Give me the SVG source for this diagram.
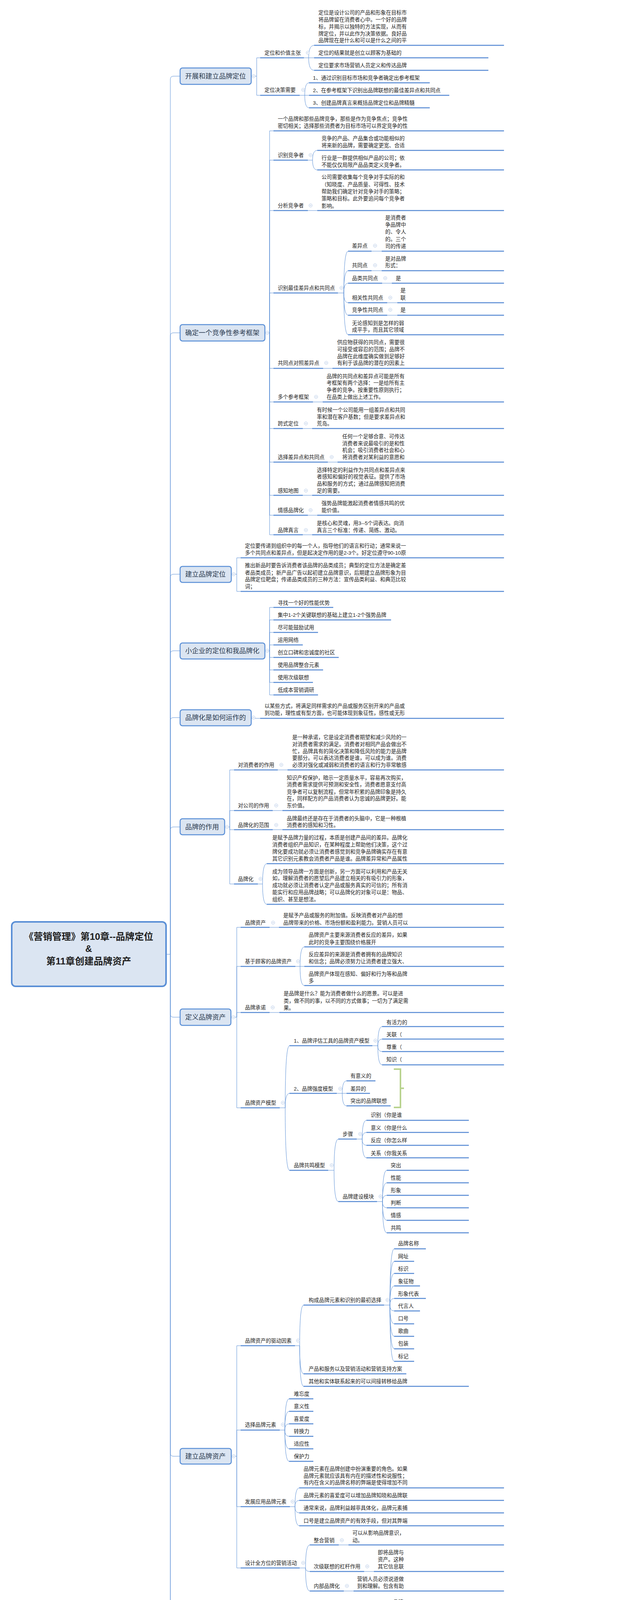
<svg xmlns="http://www.w3.org/2000/svg" width="1633" height="5072" viewBox="0 0 1633 5072">
<style>
text{font-family:"Liberation Sans","Noto Sans CJK SC",sans-serif}
.s{font-size:13.3px;fill:#1e1e1e}
.m{font-size:17.3px;fill:#2b3a4f}
.r{font-size:24px;font-weight:bold;fill:#1f1f1f}
.u{stroke:#5589d3;stroke-width:2.5}
.c{stroke:#5a8fd6;stroke-width:1;fill:none}
.b{fill:#dbe5f2;stroke:#5a8fd6;stroke-width:2.5}
.rb{fill:#dbe5f2;stroke:#5a8fd6;stroke-width:4}
</style>
<defs>
<symbol id="ic" viewBox="-5 -5 10 10" width="10" height="10" overflow="visible"><circle r="4.2" fill="#fff" stroke="#a8bfe2" stroke-width="0.9"/><line x1="-2.2" y1="0" x2="2.2" y2="0" stroke="#8fa9d4" stroke-width="0.9"/></symbol>
</defs>
<rect width="1633" height="5072" fill="#fff"/>
<g id="connectors">
<path class="c" d="M425,2443H436M436,2443V203Q436,195 444,195H461M436,2443V860Q436,852 444,852H461M436,2443V1478Q436,1470 444,1470H461M436,2443V1674Q436,1666 444,1666H461M436,2443V1845Q436,1837 444,1837H461M436,2443V2125Q436,2117 444,2117H461M436,2443V2596Q436,2604 444,2604H461M436,2443V3720Q436,3728 444,3728H461M436,2443V4252Q436,4260 444,4260H461M436,2443V4682Q436,4690 444,4690H461"/>
<path class="c" d="M643,195H657M657,195V148H666M657,195V244H666"/>
<path class="c" d="M778,148H790M790,148Q790,116 804,116M790,148H804M790,148Q790,180 804,180"/>
<path class="c" d="M767,244H780M780,244Q780,212 791,212M780,244H791M780,244Q780,276 791,276"/>
<path class="c" d="M678,852H690M690,852V335H700M690,852V410H700M690,852V539H700M690,852V750H700M690,852V943H700M690,852V1029H700M690,852V1097H700M690,852V1183H700M690,852V1268H700M690,852V1319H700M690,852V1369H700"/>
<path class="c" d="M788,410H800M800,410Q800,385 812,385M800,410Q800,435 812,435M788,539H812"/>
<path class="c" d="M865,750H880M880,750Q880,643 891,643M880,750Q880,693 891,693M880,750Q880,725 891,725M880,750Q880,775 891,775M880,750Q880,807 891,807M880,750Q880,857 891,857"/>
<path class="c" d="M951,643H977M951,693H977M978,725H1003M991,775H1017M991,807H1017"/>
<path class="c" d="M827,943H851M801,1029H826M775,1097H799M839,1183H864M775,1268H799M788,1319H812M775,1369H799"/>
<path class="c" d="M592,1470H606M606,1470V1428H616M606,1470V1514H616"/>
<path class="c" d="M678,1666H690M690,1666V1555H700M690,1666V1587H700M690,1666V1619H700M690,1666V1651H700M690,1666V1683H700M690,1666V1715H700M690,1666V1747H700M690,1666V1779H700"/>
<path class="c" d="M643,1839H666"/>
<path class="c" d="M575,2117H588M588,2117V1971H599M588,2117V2075H599M588,2117V2124H599M588,2117V2263H599"/>
<path class="c" d="M711,1971H736M698,2075H723M698,2124H723M660,2263H672M672,2263Q672,2211 683,2211M672,2263Q672,2315 683,2315"/>
<path class="c" d="M591,2604H606M606,2604V2374H616M606,2604V2474H616M606,2604V2592H616M606,2604V2836H616"/>
<path class="c" d="M690,2374H714M756,2474H768M768,2474Q768,2424 779,2424M768,2474H779M768,2474Q768,2523 779,2523M690,2592H715"/>
<path class="c" d="M716,2836H730M730,2836Q730,2677 741,2677M730,2836Q730,2799 741,2799M730,2836Q730,2996 741,2996"/>
<path class="c" d="M953,2677H967M967,2677Q967,2628 978,2628M967,2677Q967,2660 978,2660M967,2677Q967,2692 978,2692M967,2677Q967,2726 978,2726"/>
<path class="c" d="M862,2799H876M876,2799Q876,2767 887,2767M876,2799H887M876,2799Q876,2831 887,2831"/>
<path class="c" d="M840,2996H855M855,2996Q855,2916 866,2916M855,2996Q855,3076 866,3076"/>
<path class="c" d="M913,2916H927M927,2916Q927,2868 938,2868M927,2916Q927,2899 938,2899M927,2916Q927,2932 938,2932M927,2916Q927,2964 938,2964"/>
<path class="c" d="M965,3076H979M979,3076Q979,2996 990,2996M979,3076Q979,3028 990,3028M979,3076Q979,3060 990,3060M979,3076Q979,3092 990,3092M979,3076Q979,3124 990,3124M979,3076Q979,3156 990,3156"/>
<path class="c" d="M592,3728H606M606,3728V3445H616M606,3728V3661H616M606,3728V3857H616M606,3728V4014H616"/>
<path class="c" d="M755,3445H767M767,3445Q767,3341 777,3341M767,3445Q767,3517 777,3517M767,3445Q767,3549 777,3549"/>
<path class="c" d="M983,3341H998M998,3341Q998,3197 1009,3197M998,3341Q998,3229 1009,3229M998,3341Q998,3260 1009,3260M998,3341Q998,3292 1009,3292M998,3341Q998,3324 1009,3324M998,3341Q998,3356 1009,3356M998,3341Q998,3389 1009,3389M998,3341Q998,3421 1009,3421M998,3341Q998,3453 1009,3453M998,3341Q998,3485 1009,3485"/>
<path class="c" d="M716,3661H729M729,3661Q729,3581 740,3581M729,3661Q729,3613 740,3613M729,3661Q729,3645 740,3645M729,3661Q729,3677 740,3677M729,3661Q729,3709 740,3709M729,3661Q729,3741 740,3741"/>
<path class="c" d="M742,3857H755M755,3857Q755,3809 766,3809M755,3857Q755,3841 766,3841M755,3857Q755,3873 766,3873M755,3857Q755,3906 766,3906"/>
<path class="c" d="M767,4014H782M782,4014Q782,3955 793,3955M782,4014Q782,4023 793,4023M782,4014Q782,4073 793,4073M867,3955H892M932,4023H957M880,4073H905"/>
<path class="c" d="M592,4260H606M606,4260V4182H616M606,4260V4340H616"/>
<path class="c" d="M690,4182H703M703,4182Q703,4130 714,4130M703,4182Q703,4178 714,4178M703,4182Q703,4235 714,4235"/>
<path class="c" d="M970,4130H984M984,4130Q984,4113 995,4113M984,4130Q984,4146 995,4146M853,4235H867M867,4235Q867,4210 878,4210M867,4235Q867,4261 878,4261"/>
<path class="c" d="M690,4340H703M703,4340Q703,4292 714,4292M703,4340Q703,4324 714,4324M703,4340Q703,4356 714,4356M703,4340Q703,4388 714,4388"/>
<path class="c" d="M609,4690H623M623,4690V4462H633M623,4690V4589H633M623,4690V4685H633M623,4690V4717H633M623,4690V4749H633M623,4690V4781H633M623,4690V4813H633M623,4690V4921H633"/>
<path class="c" d="M733,4462H746M746,4462Q746,4429 757,4429M746,4462H757M746,4462Q746,4493 757,4493"/>
<path class="c" d="M707,4589H720M720,4589Q720,4525 731,4525M720,4589Q720,4557 731,4557M720,4589H731M720,4589Q720,4621 731,4621M720,4589Q720,4653 731,4653"/>
<path class="c" d="M693,4685H718M707,4717H731M707,4749H731M707,4781H731"/>
<path class="c" d="M733,4921H746M746,4921Q746,4845 757,4845M746,4921Q746,4877 757,4877M746,4921Q746,4909 757,4909M746,4921Q746,4998 757,4998"/>
<path class="c" d="M962,4998H975M975,4998Q975,4941 986,4941M975,4998Q975,4991 986,4991M975,4998Q975,5023 986,5023M975,4998Q975,5055 986,5055"/>
</g>

<g id="root"><rect class="rb" x="30" y="2360" width="395" height="165" rx="10"/>
<text class="r" text-anchor="middle"><tspan x="227" y="2406">《营销管理》第10章--品牌定位</tspan><tspan x="227" y="2437">&amp;</tspan><tspan x="227" y="2469">第11章创建品牌资产</tspan></text></g>

<g id="m1"><rect class="b" x="461" y="174" width="182" height="42" rx="6"/><text class="m" x="474" y="201">开展和建立品牌定位</text><use href="#ic" x="644" y="190"/></g>
<g id="m2"><rect class="b" x="461" y="831" width="217" height="42" rx="6"/><text class="m" x="474" y="858">确定一个竞争性参考框架</text><use href="#ic" x="679" y="847"/></g>
<g id="m3"><rect class="b" x="461" y="1450" width="131" height="41" rx="6"/><text class="m" x="474" y="1476">建立品牌定位</text><use href="#ic" x="593" y="1465"/></g>
<g id="m4"><rect class="b" x="461" y="1646" width="217" height="41" rx="6"/><text class="m" x="474" y="1672">小企业的定位和我品牌化</text><use href="#ic" x="679" y="1661"/></g>
<g id="m5"><rect class="b" x="461" y="1817" width="182" height="41" rx="6"/><text class="m" x="474" y="1843">品牌化是如何运作的</text><use href="#ic" x="644" y="1832"/></g>
<g id="m6"><rect class="b" x="461" y="2096" width="114" height="41" rx="6"/><text class="m" x="474" y="2123">品牌的作用</text><use href="#ic" x="576" y="2112"/></g>
<g id="m7"><rect class="b" x="461" y="2583" width="130" height="42" rx="6"/><text class="m" x="474" y="2610">定义品牌资产</text><use href="#ic" x="592" y="2599"/></g>
<g id="m8"><rect class="b" x="461" y="3708" width="131" height="40" rx="6"/><text class="m" x="474" y="3734">建立品牌资产</text><use href="#ic" x="593" y="3723"/></g>
<g id="m9"><rect class="b" x="461" y="4240" width="131" height="41" rx="6"/><text class="m" x="474" y="4266">管理品牌资产</text><use href="#ic" x="593" y="4255"/></g>
<g id="m10"><rect class="b" x="461" y="4670" width="148" height="41" rx="6"/><text class="m" x="474" y="4696">设计品牌化战略</text><use href="#ic" x="610" y="4685"/></g>

<g id="n1a"><text class="s" x="677" y="140">定位和价值主张</text><line class="u" x1="666" y1="148" x2="778" y2="148"/><use href="#ic" x="783" y="130"/></g>
<g id="n1a1"><text class="s"><tspan x="815" y="37">定位是设计公司的产品和形象在目标市</tspan><tspan x="815" y="55">将品牌留在消费者心中。一个好的品牌</tspan><tspan x="815" y="73">标，并揭示以独特的方法实现，从而有</tspan><tspan x="815" y="91">牌定位，并以此作为决策依据。良好品</tspan><tspan x="815" y="108">品牌现在是什么和可以是什么之间的平</tspan></text><line class="u" x1="804" y1="116" x2="1290" y2="116"/></g>
<g id="n1a2"><text class="s" x="815" y="140">定位的结果就是创立以顾客为基础的</text><line class="u" x1="804" y1="148" x2="1250" y2="148"/></g>
<g id="n1a3"><text class="s" x="815" y="172">定位要求市场营销人员定义和传达品牌</text><line class="u" x1="804" y1="180" x2="1250" y2="180"/></g>
<g id="n1b"><text class="s" x="677" y="235">定位决策需要</text><line class="u" x1="666" y1="244" x2="767" y2="244"/><use href="#ic" x="771" y="225"/></g>
<g id="n1b1"><text class="s" x="801" y="204">1、通过识别目标市场和竞争者确定出参考框架</text><line class="u" x1="791" y1="212" x2="1100" y2="212"/></g>
<g id="n1b2"><text class="s" x="801" y="236">2、在参考框架下识别出品牌联想的最佳差异点和共同点</text><line class="u" x1="791" y1="244" x2="1150" y2="244"/></g>
<g id="n1b3"><text class="s" x="801" y="268">3、创建品牌真言来概括品牌定位和品牌精髓</text><line class="u" x1="791" y1="276" x2="1100" y2="276"/></g>

<g id="n2a"><text class="s"><tspan x="711" y="309">一个品牌和那些品牌竞争，那些是作为竞争焦点；竞争性</tspan><tspan x="711" y="327">密切相关；选择那些消费者为目标市场可以界定竞争的性</tspan></text><line class="u" x1="700" y1="335" x2="1290" y2="335"/></g>
<g id="n2b"><text class="s" x="711" y="402">识别竞争者</text><line class="u" x1="700" y1="410" x2="788" y2="410"/><use href="#ic" x="790" y="392"/></g>
<g id="n2b1"><text class="s"><tspan x="823" y="359">竞争的产品、产品集合或功能相似的</tspan><tspan x="823" y="377">将来新的品牌，需要确定更宽、合适</tspan></text><line class="u" x1="812" y1="385" x2="1290" y2="385"/></g>
<g id="n2b2"><text class="s"><tspan x="823" y="409">行业是一群提供相似产品的公司；依</tspan><tspan x="823" y="427">不能仅仅局限产品品类定义竞争者。</tspan></text><line class="u" x1="812" y1="435" x2="1290" y2="435"/></g>
<g id="n2c"><text class="s" x="711" y="531">分析竞争者</text><line class="u" x1="700" y1="539" x2="788" y2="539"/><use href="#ic" x="790" y="521"/></g>
<g id="n2c1"><text class="s"><tspan x="823" y="458">公司需要收集每个竞争对手实际的和</tspan><tspan x="823" y="477">（知晓度、产品质量、可得性、技术</tspan><tspan x="823" y="495">帮助我们确定针对竞争对手的策略；</tspan><tspan x="823" y="513">策略和目标。此外要追问每个竞争者</tspan><tspan x="823" y="532">影响。</tspan></text><line class="u" x1="812" y1="539" x2="1290" y2="539"/></g>
<g id="n2d"><text class="s" x="711" y="742">识别最佳差异点和共同点</text><line class="u" x1="700" y1="750" x2="865" y2="750"/><use href="#ic" x="869" y="732"/></g>
<g id="n2d1"><text class="s" x="901" y="634">差异点</text><line class="u" x1="891" y1="643" x2="951" y2="643"/><use href="#ic" x="955" y="624"/></g>
<g id="n2d1a"><text class="s"><tspan x="986" y="562">是消费者</tspan><tspan x="986" y="580">争品牌中</tspan><tspan x="986" y="598">的、令人</tspan><tspan x="986" y="617">的。三个</tspan><tspan x="986" y="635">司的传递</tspan></text><line class="u" x1="977" y1="643" x2="1290" y2="643"/></g>
<g id="n2d2"><text class="s" x="901" y="684">共同点</text><line class="u" x1="891" y1="693" x2="951" y2="693"/><use href="#ic" x="955" y="674"/></g>
<g id="n2d2a"><text class="s"><tspan x="986" y="667">是对品牌</tspan><tspan x="986" y="684">形式：</tspan></text><line class="u" x1="977" y1="693" x2="1290" y2="693"/></g>
<g id="n2d3"><text class="s" x="901" y="717">品类共同点</text><line class="u" x1="891" y1="725" x2="978" y2="725"/><use href="#ic" x="981" y="707"/></g>
<g id="n2d3a"><text class="s" x="1013" y="717">是</text><line class="u" x1="1003" y1="725" x2="1290" y2="725"/></g>
<g id="n2d4"><text class="s" x="901" y="767">相关性共同点</text><line class="u" x1="891" y1="775" x2="991" y2="775"/><use href="#ic" x="994" y="757"/></g>
<g id="n2d4a"><text class="s"><tspan x="1025" y="748">是</tspan><tspan x="1025" y="767">联</tspan></text><line class="u" x1="1017" y1="775" x2="1290" y2="775"/></g>
<g id="n2d5"><text class="s" x="901" y="798">竞争性共同点</text><line class="u" x1="891" y1="807" x2="991" y2="807"/><use href="#ic" x="994" y="788"/></g>
<g id="n2d5a"><text class="s" x="1025" y="798">是</text><line class="u" x1="1017" y1="807" x2="1290" y2="807"/></g>
<g id="n2d6"><text class="s"><tspan x="901" y="832">无论感知到是怎样的弱</tspan><tspan x="901" y="849">成平手，而且其它领域</tspan></text><line class="u" x1="891" y1="857" x2="1290" y2="857"/></g>
<g id="n2e"><text class="s" x="711" y="934">共同点对照差异点</text><line class="u" x1="700" y1="943" x2="827" y2="943"/><use href="#ic" x="830" y="924"/></g>
<g id="n2e1"><text class="s"><tspan x="863" y="881">供应物获得的共同点，需要很</tspan><tspan x="863" y="899">可接受或容忍的范围；品牌不</tspan><tspan x="863" y="917">品牌在此维度确实做到足够好</tspan><tspan x="863" y="934">有利于该品牌的潜在的因素上</tspan></text><line class="u" x1="851" y1="943" x2="1290" y2="943"/></g>
<g id="n2f"><text class="s" x="711" y="1021">多个参考框架</text><line class="u" x1="700" y1="1029" x2="801" y2="1029"/><use href="#ic" x="804" y="1011"/></g>
<g id="n2f1"><text class="s"><tspan x="836" y="968">品牌的共同点和差异点可能是所有</tspan><tspan x="836" y="985">考框架有两个选择：一是给所有主</tspan><tspan x="836" y="1003">争者的竞争。按重要性原则执行；</tspan><tspan x="836" y="1021">在品类上做出上述工作。</tspan></text><line class="u" x1="826" y1="1029" x2="1290" y2="1029"/></g>
<g id="n2g"><text class="s" x="711" y="1089">跨式定位</text><line class="u" x1="700" y1="1097" x2="775" y2="1097"/><use href="#ic" x="778" y="1079"/></g>
<g id="n2g1"><text class="s"><tspan x="811" y="1054">有时候一个公司能用一组差异点和共同</tspan><tspan x="811" y="1072">率和潜在客户基数；但是要求差异点和</tspan><tspan x="811" y="1089">荒岛。</tspan></text><line class="u" x1="799" y1="1097" x2="1290" y2="1097"/></g>
<g id="n2h"><text class="s" x="711" y="1175">选择差异点和共同点</text><line class="u" x1="700" y1="1183" x2="839" y2="1183"/><use href="#ic" x="844" y="1165"/></g>
<g id="n2h1"><text class="s"><tspan x="876" y="1122">任何一个足够合意、可传达</tspan><tspan x="876" y="1140">消费者来说最吸引的是和性</tspan><tspan x="876" y="1157">机会；吸引消费者社会和心</tspan><tspan x="876" y="1175">将消费者对某利益的意愿和</tspan></text><line class="u" x1="864" y1="1183" x2="1290" y2="1183"/></g>
<g id="n2i"><text class="s" x="711" y="1261">感知地图</text><line class="u" x1="700" y1="1268" x2="775" y2="1268"/><use href="#ic" x="778" y="1251"/></g>
<g id="n2i1"><text class="s"><tspan x="811" y="1208">选择特定的利益作为共同点和差异点来</tspan><tspan x="811" y="1225">者感知和偏好的视觉表征。提供了市场</tspan><tspan x="811" y="1243">品和服务的方式；通过品牌感知把消费</tspan><tspan x="811" y="1261">足的需要。</tspan></text><line class="u" x1="799" y1="1268" x2="1290" y2="1268"/></g>
<g id="n2j"><text class="s" x="711" y="1311">情感品牌化</text><line class="u" x1="700" y1="1319" x2="788" y2="1319"/><use href="#ic" x="790" y="1301"/></g>
<g id="n2j1"><text class="s"><tspan x="823" y="1293">强势品牌能激起消费者情感共鸣的优</tspan><tspan x="823" y="1311">能价值。</tspan></text><line class="u" x1="812" y1="1319" x2="1290" y2="1319"/></g>
<g id="n2k"><text class="s" x="711" y="1362">品牌真言</text><line class="u" x1="700" y1="1369" x2="775" y2="1369"/><use href="#ic" x="778" y="1352"/></g>
<g id="n2k1"><text class="s"><tspan x="811" y="1344">是核心和灵魂，用3--5个词表达。向消</tspan><tspan x="811" y="1362">真言三个标准：传递、简练、激动。</tspan></text><line class="u" x1="799" y1="1369" x2="1290" y2="1369"/></g>

<g id="n3a"><text class="s"><tspan x="627" y="1402">定位要传递到组织中的每一个人，指导他们的语言和行动；通常来说一</tspan><tspan x="627" y="1420">多个共同点和差异点，但是起决定作用的是2-3个。好定位遵守90-10原</tspan></text><line class="u" x1="616" y1="1428" x2="1290" y2="1428"/></g>
<g id="n3b"><text class="s"><tspan x="627" y="1452">推出新品时要告诉消费者该品牌的品类成员；典型的定位方法是确定差</tspan><tspan x="627" y="1471">者品类成员；新产品广告以起初建立品牌意识，后期建立品牌形象为目</tspan><tspan x="627" y="1488">品牌定位靶盘；传递品类成员的三种方法：宣传品类利益、和典范比较</tspan><tspan x="627" y="1506">词；</tspan></text><line class="u" x1="616" y1="1514" x2="1290" y2="1514"/></g>

<g id="n4a"><text class="s" x="711" y="1548">寻找一个好的性能优势</text><line class="u" x1="700" y1="1555" x2="853" y2="1555"/></g>
<g id="n4b"><text class="s" x="711" y="1579">集中1-2个关键联想的基础上建立1-2个强势品牌</text><line class="u" x1="700" y1="1587" x2="1001" y2="1587"/></g>
<g id="n4c"><text class="s" x="711" y="1611">尽可能鼓励试用</text><line class="u" x1="700" y1="1619" x2="814" y2="1619"/></g>
<g id="n4d"><text class="s" x="711" y="1643">运用网络</text><line class="u" x1="700" y1="1651" x2="775" y2="1651"/></g>
<g id="n4e"><text class="s" x="711" y="1675">创立口碑和忠诚度的社区</text><line class="u" x1="700" y1="1683" x2="867" y2="1683"/></g>
<g id="n4f"><text class="s" x="711" y="1707">使用品牌整合元素</text><line class="u" x1="700" y1="1715" x2="827" y2="1715"/></g>
<g id="n4g"><text class="s" x="711" y="1739">使用次级联想</text><line class="u" x1="700" y1="1747" x2="801" y2="1747"/></g>
<g id="n4h"><text class="s" x="711" y="1771">低成本营销调研</text><line class="u" x1="700" y1="1779" x2="814" y2="1779"/></g>

<g id="n5a"><text class="s"><tspan x="677" y="1812">以某些方式，将满足同样需求的产品或服务区别开来的产品或</tspan><tspan x="677" y="1830">到功能，理性或有型方面，也可能体现到象征性，感性或无形</tspan></text><line class="u" x1="666" y1="1839" x2="1290" y2="1839"/></g>

<g id="n6a"><text class="s" x="609" y="1963">对消费者的作用</text><line class="u" x1="599" y1="1971" x2="711" y2="1971"/><use href="#ic" x="715" y="1953"/></g>
<g id="n6a1"><text class="s"><tspan x="748" y="1892">是一种承诺，它是设定消费者期望和减少风险的一</tspan><tspan x="748" y="1910">对消费者需求的满足。消费者对相同产品会做出不</tspan><tspan x="748" y="1928">忙，品牌具有的简化决策和降低风险的能力是品牌</tspan><tspan x="748" y="1945">要部分。可以表达消费者是谁，可以成为谁。消费</tspan><tspan x="748" y="1963">必须对强化或减弱和消费者的语言和行为非常敏感</tspan></text><line class="u" x1="736" y1="1971" x2="1290" y2="1971"/></g>
<g id="n6b"><text class="s" x="609" y="2067">对公司的作用</text><line class="u" x1="599" y1="2075" x2="698" y2="2075"/><use href="#ic" x="702" y="2057"/></g>
<g id="n6b1"><text class="s"><tspan x="734" y="1996">知识产权保护，暗示一定质量水平，容易再次购买，</tspan><tspan x="734" y="2013">消费者需求提供可预测和安全性，消费者愿意支付高</tspan><tspan x="734" y="2032">竞争者可以复制流程，但常年积累的品牌印象是持久</tspan><tspan x="734" y="2049">在，同样配方的产品消费者认为忠诚的品牌更好。能</tspan><tspan x="734" y="2067">东价值。</tspan></text><line class="u" x1="723" y1="2075" x2="1290" y2="2075"/></g>
<g id="n6c"><text class="s" x="609" y="2117">品牌化的范围</text><line class="u" x1="599" y1="2124" x2="698" y2="2124"/><use href="#ic" x="702" y="2107"/></g>
<g id="n6c1"><text class="s"><tspan x="734" y="2100">品牌最终还是存在于消费者的头脑中，它是一种根植</tspan><tspan x="734" y="2117">消费者的感知和习性。</tspan></text><line class="u" x1="723" y1="2124" x2="1290" y2="2124"/></g>
<g id="n6d"><text class="s" x="609" y="2255">品牌化</text><line class="u" x1="599" y1="2263" x2="660" y2="2263"/><use href="#ic" x="662" y="2245"/></g>
<g id="n6d1"><text class="s"><tspan x="697" y="2149">是赋予品牌力量的过程，本质是创建产品间的差异。品牌化</tspan><tspan x="697" y="2167">消费者组织产品知识，在某种程度上帮助他们决策，这个过</tspan><tspan x="697" y="2185">牌化要成功就必须让消费者感觉到和竞争品牌确实存在有意</tspan><tspan x="697" y="2203">其它识别元素教会消费者产品是谁。品牌差异常和产品属性</tspan></text><line class="u" x1="683" y1="2211" x2="1290" y2="2211"/></g>
<g id="n6d2"><text class="s"><tspan x="697" y="2236">成为领导品牌一方面是创新，另一方面可以利用和产品无关</tspan><tspan x="697" y="2253">如，理解消费者的愿望后产品建立相关的有吸引力的形象，</tspan><tspan x="697" y="2271">成功就必须让消费者认定产品或服务真实的可信的；所有消</tspan><tspan x="697" y="2289">能实行和应用品牌战略；可以品牌化的对象可以是：物品、</tspan><tspan x="697" y="2307">组织、甚至是想法。</tspan></text><line class="u" x1="683" y1="2315" x2="1290" y2="2315"/></g>

<g id="n7a"><text class="s" x="627" y="2367">品牌资产</text><line class="u" x1="616" y1="2374" x2="690" y2="2374"/><use href="#ic" x="694" y="2357"/></g>
<g id="n7a1"><text class="s"><tspan x="725" y="2348">是赋予产品或服务的附加值。反映消费者对产品的想</tspan><tspan x="725" y="2367">品牌带来的价格、市场份额和盈利能力。营销人员可以</tspan></text><line class="u" x1="714" y1="2374" x2="1290" y2="2374"/></g>
<g id="n7b"><text class="s" x="627" y="2466">基于顾客的品牌资产</text><line class="u" x1="616" y1="2474" x2="756" y2="2474"/><use href="#ic" x="758" y="2456"/></g>
<g id="n7b1"><text class="s"><tspan x="790" y="2398">品牌资产主要来源消费者反应的差异，如果</tspan><tspan x="790" y="2417">此时的竞争主要围绕价格展开</tspan></text><line class="u" x1="779" y1="2424" x2="1290" y2="2424"/></g>
<g id="n7b2"><text class="s"><tspan x="790" y="2448">反应差异的来源是消费者拥有的品牌知识</tspan><tspan x="790" y="2466">和信念；品牌必须努力让消费者建立强大、</tspan></text><line class="u" x1="779" y1="2474" x2="1290" y2="2474"/></g>
<g id="n7b3"><text class="s"><tspan x="790" y="2498">品牌资产体现在感知、偏好和行为等和品牌</tspan><tspan x="790" y="2516">多</tspan></text><line class="u" x1="779" y1="2523" x2="1290" y2="2523"/></g>
<g id="n7c"><text class="s" x="627" y="2584">品牌承诺</text><line class="u" x1="616" y1="2592" x2="690" y2="2592"/><use href="#ic" x="693" y="2574"/></g>
<g id="n7c1"><text class="s"><tspan x="726" y="2548">是品牌是什么？能为消费者做什么的愿景。可以是进</tspan><tspan x="726" y="2567">类，做不同的事，以不同的方式做事；一切为了满足需</tspan><tspan x="726" y="2585">果。</tspan></text><line class="u" x1="715" y1="2592" x2="1290" y2="2592"/></g>
<g id="n7d"><text class="s" x="627" y="2828">品牌资产模型</text><line class="u" x1="616" y1="2836" x2="716" y2="2836"/><use href="#ic" x="719" y="2818"/></g>
<g id="n7d1"><text class="s" x="752" y="2669">1、品牌评估工具的品牌资产模型</text><line class="u" x1="741" y1="2677" x2="953" y2="2677"/><use href="#ic" x="956" y="2659"/></g>
<g id="n7d1a"><text class="s" x="989" y="2622">有活力的</text><line class="u" x1="978" y1="2628" x2="1290" y2="2628"/></g>
<g id="n7d1b"><text class="s" x="989" y="2653">关联（</text><line class="u" x1="978" y1="2660" x2="1290" y2="2660"/></g>
<g id="n7d1c"><text class="s" x="989" y="2685">尊重（</text><line class="u" x1="978" y1="2692" x2="1290" y2="2692"/></g>
<g id="n7d1d"><text class="s" x="989" y="2717">知识（</text><line class="u" x1="978" y1="2726" x2="1290" y2="2726"/></g>
<g id="n7d2"><text class="s" x="752" y="2792">2、品牌强度模型</text><line class="u" x1="741" y1="2799" x2="862" y2="2799"/><use href="#ic" x="866" y="2782"/></g>
<g id="n7d2a"><text class="s" x="897" y="2759">有意义的</text><line class="u" x1="887" y1="2767" x2="961" y2="2767"/></g>
<g id="n7d2b"><text class="s" x="897" y="2792">差异的</text><line class="u" x1="887" y1="2799" x2="947" y2="2799"/></g>
<g id="n7d2c"><text class="s" x="897" y="2823">突出的品牌联想</text><line class="u" x1="887" y1="2831" x2="1000" y2="2831"/></g>
<path d="M1008,2737H1025V2835H1008M1025,2786H1034" fill="none" stroke="#b9d38f" stroke-width="4"/>
<g id="n7d3"><text class="s" x="752" y="2988">品牌共鸣模型</text><line class="u" x1="741" y1="2996" x2="840" y2="2996"/><use href="#ic" x="844" y="2978"/></g>
<g id="n7d3a"><text class="s" x="877" y="2908">步骤</text><line class="u" x1="866" y1="2916" x2="913" y2="2916"/><use href="#ic" x="917" y="2898"/></g>
<g id="n7d3a1"><text class="s" x="949" y="2859">识别（你是谁</text><line class="u" x1="938" y1="2868" x2="1200" y2="2868"/></g>
<g id="n7d3a2"><text class="s" x="949" y="2892">意义（你是什么</text><line class="u" x1="938" y1="2899" x2="1200" y2="2899"/></g>
<g id="n7d3a3"><text class="s" x="949" y="2924">反应（你怎么样</text><line class="u" x1="938" y1="2932" x2="1200" y2="2932"/></g>
<g id="n7d3a4"><text class="s" x="949" y="2957">关系（你我关系</text><line class="u" x1="938" y1="2964" x2="1200" y2="2964"/></g>
<g id="n7d3b"><text class="s" x="877" y="3068">品牌建设模块</text><line class="u" x1="866" y1="3076" x2="965" y2="3076"/><use href="#ic" x="969" y="3058"/></g>
<g id="n7d3b1"><text class="s" x="1000" y="2988">突出</text><line class="u" x1="990" y1="2996" x2="1200" y2="2996"/></g>
<g id="n7d3b2"><text class="s" x="1000" y="3020">性能</text><line class="u" x1="990" y1="3028" x2="1200" y2="3028"/></g>
<g id="n7d3b3"><text class="s" x="1000" y="3052">形象</text><line class="u" x1="990" y1="3060" x2="1200" y2="3060"/></g>
<g id="n7d3b4"><text class="s" x="1000" y="3084">判断</text><line class="u" x1="990" y1="3092" x2="1200" y2="3092"/></g>
<g id="n7d3b5"><text class="s" x="1000" y="3116">情感</text><line class="u" x1="990" y1="3124" x2="1200" y2="3124"/></g>
<g id="n7d3b6"><text class="s" x="1000" y="3148">共鸣</text><line class="u" x1="990" y1="3156" x2="1200" y2="3156"/></g>

<g id="n8a"><text class="s" x="627" y="3437">品牌资产的驱动因素</text><line class="u" x1="616" y1="3445" x2="755" y2="3445"/><use href="#ic" x="758" y="3427"/></g>
<g id="n8a1"><text class="s" x="790" y="3333">构成品牌元素和识别的最初选择</text><line class="u" x1="777" y1="3341" x2="983" y2="3341"/><use href="#ic" x="987" y="3323"/></g>
<g id="n8a1x"><text class="s"><tspan x="1019" y="3188">品牌名称</tspan><tspan x="1019" y="3221">网址</tspan><tspan x="1019" y="3253">标识</tspan><tspan x="1019" y="3285">象征物</tspan><tspan x="1019" y="3317">形象代表</tspan><tspan x="1019" y="3348">代言人</tspan><tspan x="1019" y="3380">口号</tspan><tspan x="1019" y="3412">歌曲</tspan><tspan x="1019" y="3444">包装</tspan><tspan x="1019" y="3477">标记</tspan></text>
<line class="u" x1="1009" y1="3197" x2="1090" y2="3197"/><line class="u" x1="1009" y1="3229" x2="1060" y2="3229"/><line class="u" x1="1009" y1="3260" x2="1060" y2="3260"/><line class="u" x1="1009" y1="3292" x2="1075" y2="3292"/><line class="u" x1="1009" y1="3324" x2="1090" y2="3324"/><line class="u" x1="1009" y1="3356" x2="1075" y2="3356"/><line class="u" x1="1009" y1="3389" x2="1060" y2="3389"/><line class="u" x1="1009" y1="3421" x2="1060" y2="3421"/><line class="u" x1="1009" y1="3453" x2="1060" y2="3453"/><line class="u" x1="1009" y1="3485" x2="1060" y2="3485"/></g>
<g id="n8a2"><text class="s" x="790" y="3509">产品和服务以及营销活动和营销支持方案</text><line class="u" x1="777" y1="3517" x2="1040" y2="3517"/></g>
<g id="n8a3"><text class="s" x="790" y="3541">其他和实体联系起来的可以间接转移给品牌</text><line class="u" x1="777" y1="3549" x2="1200" y2="3549"/></g>
<g id="n8b"><text class="s" x="627" y="3652">选择品牌元素</text><line class="u" x1="616" y1="3661" x2="716" y2="3661"/><use href="#ic" x="719" y="3642"/></g>
<g id="n8bx"><text class="s"><tspan x="752" y="3573">难忘度</tspan><tspan x="752" y="3605">意义性</tspan><tspan x="752" y="3637">喜爱度</tspan><tspan x="752" y="3669">转换力</tspan><tspan x="752" y="3701">适应性</tspan><tspan x="752" y="3733">保护力</tspan></text>
<line class="u" x1="740" y1="3581" x2="802" y2="3581"/><line class="u" x1="740" y1="3613" x2="802" y2="3613"/><line class="u" x1="740" y1="3645" x2="802" y2="3645"/><line class="u" x1="740" y1="3677" x2="802" y2="3677"/><line class="u" x1="740" y1="3709" x2="802" y2="3709"/><line class="u" x1="740" y1="3741" x2="802" y2="3741"/></g>
<g id="n8c"><text class="s" x="627" y="3849">发展应用品牌元素</text><line class="u" x1="616" y1="3857" x2="742" y2="3857"/><use href="#ic" x="744" y="3839"/></g>
<g id="n8c1"><text class="s"><tspan x="777" y="3765">品牌元素在品牌创建中扮演重要的角色。如果</tspan><tspan x="777" y="3783">品牌元素就应该具有内在的描述性和说服性；</tspan><tspan x="777" y="3800">有内在含义的品牌名称的弊端是使得增加不同</tspan></text><line class="u" x1="766" y1="3809" x2="1290" y2="3809"/></g>
<g id="n8c2"><text class="s" x="777" y="3833">品牌元素的喜爱度可以增加品牌知晓和品牌联</text><line class="u" x1="766" y1="3841" x2="1290" y2="3841"/></g>
<g id="n8c3"><text class="s" x="777" y="3865">通常来说，品牌利益越非具体化，品牌元素捕</text><line class="u" x1="766" y1="3873" x2="1290" y2="3873"/></g>
<g id="n8c4"><text class="s" x="777" y="3898">口号是建立品牌资产的有效手段，但对其弊端</text><line class="u" x1="766" y1="3906" x2="1290" y2="3906"/></g>
<g id="n8d"><text class="s" x="627" y="4006">设计全方位的营销活动</text><line class="u" x1="616" y1="4014" x2="767" y2="4014"/><use href="#ic" x="771" y="3996"/></g>
<g id="n8d1"><text class="s" x="803" y="3948">整合营销</text><line class="u" x1="793" y1="3955" x2="867" y2="3955"/><use href="#ic" x="870" y="3938"/></g>
<g id="n8d1a"><text class="s"><tspan x="902" y="3929">可以从影响品牌意识，</tspan><tspan x="902" y="3948">动。</tspan></text><line class="u" x1="892" y1="3955" x2="1290" y2="3955"/></g>
<g id="n8d2"><text class="s" x="803" y="4015">次级联想的杠杆作用</text><line class="u" x1="793" y1="4023" x2="932" y2="4023"/><use href="#ic" x="935" y="4005"/></g>
<g id="n8d2a"><text class="s"><tspan x="967" y="3979">即将品牌与</tspan><tspan x="967" y="3997">资产。这种</tspan><tspan x="967" y="4015">其它信息联</tspan></text><line class="u" x1="957" y1="4023" x2="1290" y2="4023"/></g>
<g id="n8d3"><text class="s" x="803" y="4065">内部品牌化</text><line class="u" x1="793" y1="4073" x2="880" y2="4073"/><use href="#ic" x="883" y="4055"/></g>
<g id="n8d3a"><text class="s"><tspan x="914" y="4047">营销人员必须说道做</tspan><tspan x="914" y="4065">到和理解。包含有助</tspan></text><line class="u" x1="905" y1="4073" x2="1290" y2="4073"/></g>

<g id="n9a"><text class="s" x="627" y="4173">品牌强化</text><line class="u" x1="616" y1="4182" x2="690" y2="4182"/><use href="#ic" x="694" y="4163"/></g>
<g id="n9a1"><text class="s" x="725" y="4122">营销者可以传达品牌意义来强化品牌资产</text><line class="u" x1="714" y1="4130" x2="970" y2="4130"/><use href="#ic" x="974" y="4112"/></g>
<g id="n9a1a"><text class="s" x="1006" y="4106">品牌</text><line class="u" x1="995" y1="4113" x2="1290" y2="4113"/></g>
<g id="n9a1b"><text class="s" x="1006" y="4138">品牌</text><line class="u" x1="995" y1="4146" x2="1290" y2="4146"/></g>
<g id="n9a2"><text class="s" x="725" y="4170">要求品牌不断朝着正确的方面不断前进，有新的另人喜</text><line class="u" x1="714" y1="4178" x2="1290" y2="4178"/></g>
<g id="n9a3"><text class="s" x="725" y="4228">提供持续的营销支持</text><line class="u" x1="714" y1="4235" x2="853" y2="4235"/><use href="#ic" x="858" y="4218"/></g>
<g id="n9a3a"><text class="s" x="890" y="4202">加强对品牌有意义的活动</text><line class="u" x1="878" y1="4210" x2="1290" y2="4210"/></g>
<g id="n9a3b"><text class="s"><tspan x="890" y="4234">发挥和利用现有品牌资产</tspan><tspan x="890" y="4253">牌形象。</tspan></text><line class="u" x1="878" y1="4261" x2="1290" y2="4261"/></g>
<g id="n9b"><text class="s" x="627" y="4332">品牌活化</text><line class="u" x1="616" y1="4340" x2="690" y2="4340"/><use href="#ic" x="694" y="4322"/></g>
<g id="n9b1"><text class="s" x="725" y="4284">了解品牌资产开始于什么？</text><line class="u" x1="714" y1="4292" x2="894" y2="4292"/></g>
<g id="n9b2"><text class="s" x="725" y="4316">独特的品牌联想是否还在起作用？</text><line class="u" x1="714" y1="4324" x2="932" y2="4324"/></g>
<g id="n9b3"><text class="s" x="725" y="4348">是否还存在独特性？</text><line class="u" x1="714" y1="4356" x2="854" y2="4356"/></g>
<g id="n9b4"><text class="s" x="725" y="4380">是否出现了消极的品牌联想？</text><line class="u" x1="714" y1="4388" x2="906" y2="4388"/></g>

<g id="n10a"><text class="s" x="643" y="4453">三种主要选择</text><line class="u" x1="633" y1="4462" x2="733" y2="4462"/><use href="#ic" x="736" y="4443"/></g>
<g id="n10a1"><text class="s" x="767" y="4422">为新产品发展新的品牌元素</text><line class="u" x1="757" y1="4429" x2="936" y2="4429"/></g>
<g id="n10a2"><text class="s" x="767" y="4453">运用一些既有的品牌元素</text><line class="u" x1="757" y1="4462" x2="923" y2="4462"/></g>
<g id="n10a3"><text class="s" x="767" y="4485">新的和既有的品牌元素结合起来使用</text><line class="u" x1="757" y1="4493" x2="988" y2="4493"/></g>
<g id="n10b"><text class="s" x="643" y="4581">品牌延伸</text><line class="u" x1="633" y1="4589" x2="707" y2="4589"/><use href="#ic" x="710" y="4571"/></g>
<g id="n10b1"><text class="s" x="742" y="4517">将一个新的品牌和既有品牌结合起来，这种品牌延伸</text><line class="u" x1="731" y1="4525" x2="1290" y2="4525"/></g>
<g id="n10b2"><text class="s" x="742" y="4549">给予品牌延伸或子品牌生命的既有品牌叫母品牌</text><line class="u" x1="731" y1="4557" x2="1027" y2="4557"/></g>
<g id="n10b3"><text class="s" x="742" y="4581">如果母品牌已经通过品牌延伸和多个产品联系起来</text><line class="u" x1="731" y1="4589" x2="1290" y2="4589"/></g>
<g id="n10b4"><text class="s" x="742" y="4613">产品线延伸-------增加新品（口味、形式、色彩、</text><line class="u" x1="731" y1="4621" x2="1290" y2="4621"/></g>
<g id="n10b5"><text class="s" x="742" y="4645">品类延伸---------用母品牌进入不同的产品品类。</text><line class="u" x1="731" y1="4653" x2="1040" y2="4653"/></g>
<g id="n10c"><text class="s" x="643" y="4677">品牌线</text><line class="u" x1="633" y1="4685" x2="693" y2="4685"/><use href="#ic" x="697" y="4667"/></g>
<g id="n10c1"><text class="s" x="728" y="4677">特点品牌下出售的所有产品（原始产品、产品线延伸、</text><line class="u" x1="718" y1="4685" x2="1290" y2="4685"/></g>
<g id="n10d"><text class="s" x="643" y="4709">品牌组合</text><line class="u" x1="633" y1="4717" x2="707" y2="4717"/><use href="#ic" x="710" y="4699"/></g>
<g id="n10d1"><text class="s" x="742" y="4709">销售的所有品牌线的集合</text><line class="u" x1="731" y1="4717" x2="897" y2="4717"/></g>
<g id="n10e"><text class="s" x="643" y="4741">品牌变体</text><line class="u" x1="633" y1="4749" x2="707" y2="4749"/><use href="#ic" x="710" y="4731"/></g>
<g id="n10e1"><text class="s" x="742" y="4741">给特定的零售商或分销渠道提供特定的品牌线。实现</text><line class="u" x1="731" y1="4749" x2="1290" y2="4749"/></g>
<g id="n10f"><text class="s" x="643" y="4773">特许商品</text><line class="u" x1="633" y1="4781" x2="707" y2="4781"/><use href="#ic" x="710" y="4763"/></g>
<g id="n10f1"><text class="s" x="742" y="4773">牌特许给生产该产品的其它制造商使用</text><line class="u" x1="731" y1="4781" x2="975" y2="4781"/></g>
<g id="n10g"><text class="s" x="643" y="4805">旗舰产品</text><line class="u" x1="633" y1="4813" x2="707" y2="4813"/></g>
<g id="n10h"><text class="s" x="643" y="4912">品牌投资组合</text><line class="u" x1="633" y1="4921" x2="733" y2="4921"/><use href="#ic" x="736" y="4902"/></g>
<g id="n10h1"><text class="s" x="767" y="4837">一家特定的公司为一个特定的品类或细分市场</text><line class="u" x1="757" y1="4845" x2="1290" y2="4845"/></g>
<g id="n10h2"><text class="s" x="767" y="4869">市场覆盖最大化</text><line class="u" x1="757" y1="4877" x2="871" y2="4877"/></g>
<g id="n10h3"><text class="s" x="767" y="4901">使市场重叠最小，每个品牌都有差异化吸引更</text><line class="u" x1="757" y1="4909" x2="1290" y2="4909"/></g>
<g id="n10h4"><text class="s" x="767" y="4990">品牌投资组合中品牌扮演的角色</text><line class="u" x1="757" y1="4998" x2="962" y2="4998"/><use href="#ic" x="965" y="4980"/></g>
<g id="n10h4a"><text class="s" x="996" y="4932">侧翼品牌</text><line class="u" x1="986" y1="4941" x2="1290" y2="4941"/></g>
<g id="n10h4b"><text class="s" x="996" y="4983">现金牛品牌</text><line class="u" x1="986" y1="4991" x2="1290" y2="4991"/></g>
<g id="n10h4c"><text class="s" x="996" y="5014">低端入门级品牌</text><line class="u" x1="986" y1="5023" x2="1290" y2="5023"/></g>
<g id="n10h4d"><text class="s" x="996" y="5047">声望高端品牌</text><line class="u" x1="986" y1="5055" x2="1290" y2="5055"/></g>
</svg>
